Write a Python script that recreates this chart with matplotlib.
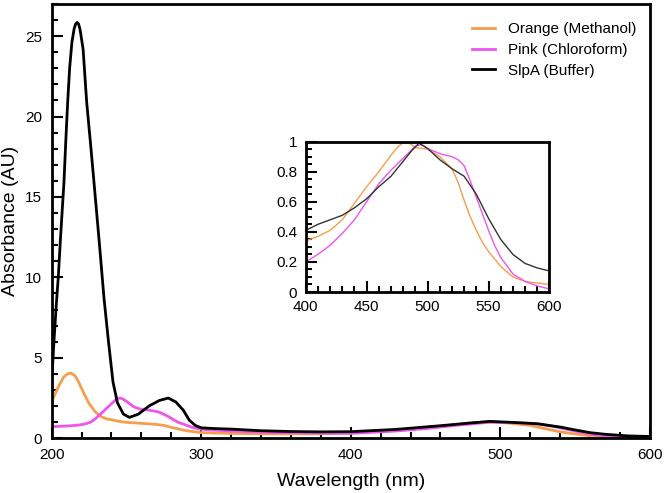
import matplotlib
matplotlib.use("Agg")
import matplotlib.pyplot as plt
from matplotlib.ticker import MultipleLocator, FuncFormatter

plt.rcParams['font.family'] = ['Liberation Sans', 'DejaVu Sans']

# main spectra (200-600 nm)
wl_black = [200, 201.5, 203, 204.4, 206, 208.2, 209.5, 210.7, 212, 213.5, 215, 216, 217, 218, 219, 221, 223.4, 226,
            228.3, 232, 235, 238, 241, 244, 248, 252, 258, 265, 272, 278, 283, 288, 292, 296, 300, 310, 320, 340,
            360, 380, 400, 430, 460, 480, 493, 510, 525, 540, 550, 560, 570, 585, 600]
abs_black = [3.5, 6.0, 8.2, 10.0, 12.6, 15.9, 18.6, 20.9, 23.0, 24.6, 25.45, 25.75, 25.85, 25.75, 25.4, 24.2, 20.9,
             18.3, 15.9, 12.0, 8.7, 6.0, 3.5, 2.2, 1.5, 1.3, 1.5, 2.0, 2.35, 2.5, 2.26, 1.75, 1.13, 0.8, 0.65, 0.6,
             0.57, 0.47, 0.42, 0.4, 0.41, 0.55, 0.78, 0.95, 1.05, 0.98, 0.9, 0.7, 0.52, 0.35, 0.25, 0.15, 0.11]

wl_orange = [200, 202, 205, 208, 210.5, 213, 215.5, 218, 222, 225, 229, 233, 237, 240, 245, 250, 260, 270, 275,
             280, 290, 300, 320, 350, 380, 400, 430, 460, 480, 493, 505, 520, 530, 540, 550, 560, 575, 600]
abs_orange = [2.26, 2.7, 3.3, 3.8, 4.0, 4.05, 3.9, 3.5, 2.7, 2.16, 1.65, 1.35, 1.2, 1.15, 1.05, 0.99, 0.93, 0.86,
              0.8, 0.68, 0.47, 0.35, 0.3, 0.27, 0.28, 0.34, 0.5, 0.75, 0.95, 1.02, 0.95, 0.8, 0.6, 0.4, 0.27,
              0.15, 0.09, 0.06]

wl_pink = [200, 210, 218, 222, 226, 229, 232, 236, 240, 243, 245, 247, 250, 255, 260, 265, 270, 273, 276, 279,
           282, 285, 288, 294, 300, 310, 320, 350, 387, 400, 430, 450, 470, 493, 510, 525, 535, 545, 555, 565, 580,
           600]
abs_pink = [0.72, 0.76, 0.82, 0.88, 1.0, 1.2, 1.45, 1.8, 2.15, 2.4, 2.5, 2.47, 2.3, 1.95, 1.79, 1.75, 1.67, 1.58,
            1.45, 1.3, 1.12, 0.98, 0.88, 0.68, 0.56, 0.5, 0.45, 0.36, 0.31, 0.3, 0.45, 0.6, 0.8, 1.0, 0.97, 0.9,
            0.75, 0.55, 0.35, 0.2, 0.1, 0.05]

# inset (normalised, 400-600 nm)
in_wl_black = [400, 410, 420, 430, 440, 450, 460, 470, 480, 487, 493, 500, 510, 520, 530, 540, 550, 560, 570, 580,
               590, 600]
in_black = [0.41, 0.45, 0.48, 0.51, 0.56, 0.62, 0.70, 0.77, 0.87, 0.94, 0.99, 0.955, 0.88, 0.82, 0.77, 0.65, 0.49,
            0.35, 0.25, 0.19, 0.16, 0.14]
in_wl_orange = [400, 410, 420, 430, 440, 450, 460, 470, 475, 480, 485, 490, 500, 510, 520, 525, 530, 535, 540, 545,
                550, 560, 570, 580, 590, 600]
in_orange = [0.34, 0.37, 0.41, 0.48, 0.59, 0.70, 0.80, 0.91, 0.96, 0.995, 0.99, 0.96, 0.95, 0.90, 0.82, 0.73, 0.61,
             0.50, 0.41, 0.33, 0.27, 0.17, 0.10, 0.07, 0.06, 0.05]
in_wl_pink = [400, 410, 420, 430, 440, 450, 460, 470, 480, 490, 495, 500, 510, 520, 525, 530, 535, 540, 545, 550,
              555, 560, 570, 580, 590, 600]
in_pink = [0.20, 0.25, 0.31, 0.39, 0.48, 0.60, 0.72, 0.81, 0.89, 0.97, 0.98, 0.955, 0.92, 0.90, 0.88, 0.84, 0.74,
           0.63, 0.52, 0.41, 0.31, 0.23, 0.12, 0.07, 0.04, 0.02]

orange = '#F59E4C'
pink = '#EE55EE'
black = '#000000'

fig = plt.figure(figsize=(6.66, 4.93), dpi=100)
ax = fig.add_axes([0.0776, 0.111, 0.898, 0.881])

ax.plot(wl_orange, abs_orange, color=orange, lw=2, label='Orange (Methanol)')
ax.plot(wl_pink, abs_pink, color=pink, lw=2, label='Pink (Chloroform)')
ax.plot(wl_black, abs_black, color=black, lw=2, label='SlpA (Buffer)')

ax.set_xlim(200, 600)
ax.set_ylim(0, 27)
ax.xaxis.set_major_locator(MultipleLocator(100))
ax.xaxis.set_minor_locator(MultipleLocator(20))
ax.yaxis.set_major_locator(MultipleLocator(5))
ax.yaxis.set_minor_locator(MultipleLocator(1))
ax.tick_params(which='both', direction='in', labelsize=11, width=1.5, pad=7)
ax.tick_params(which='major', length=8)
ax.tick_params(which='minor', length=4)
for s in ax.spines.values():
    s.set_linewidth(2)
ax.set_xlabel('Wavelength (nm)', fontsize=14, labelpad=8)
ax.set_ylabel('Absorbance (AU)', fontsize=14, labelpad=4)

leg = ax.legend(loc='upper right', frameon=False, fontsize=11, handlelength=1.5,
                handletextpad=0.8, labelspacing=0.45, bbox_to_anchor=(1.0, 0.99))

ins = fig.add_axes([0.459, 0.4077, 0.366, 0.305])
ins.plot(in_wl_orange, in_orange, color=orange, lw=1)
ins.plot(in_wl_pink, in_pink, color=pink, lw=1)
ins.plot(in_wl_black, in_black, color='#333333', lw=1)
ins.set_xlim(400, 600)
ins.set_ylim(0, 1)
ins.xaxis.set_major_locator(MultipleLocator(50))
ins.xaxis.set_minor_locator(MultipleLocator(10))
ins.yaxis.set_major_locator(MultipleLocator(0.2))
ins.yaxis.set_minor_locator(MultipleLocator(0.05))
ins.yaxis.set_major_formatter(FuncFormatter(lambda v, p: ('%g' % round(v, 2))))
ins.tick_params(which='both', direction='in', labelsize=11, width=1.5, pad=6)
ins.tick_params(which='major', length=8)
ins.tick_params(which='minor', length=4)
for s in ins.spines.values():
    s.set_linewidth(2)

fig.savefig('out.png', dpi=100)
